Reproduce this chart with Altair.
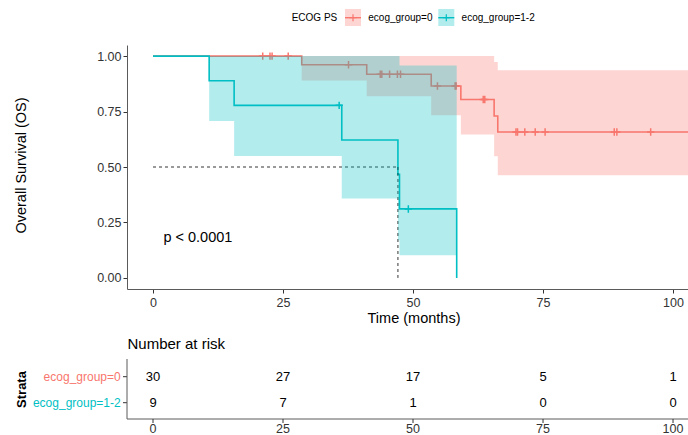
import altair as alt
import numpy as np
import pandas as pd

FONT = "Liberation Sans"

groups = ["ecog_group=0", "ecog_group=1-2"]
colors = ["#F8766D", "#00BFC4"]

# Kaplan-Meier step estimates with 95% confidence band (time in months)
time_g0 = [0.0, 28.6, 41.1, 53.5, 59.2, 65.6, 66.3, 105.0]
surv_g0 = [1.0, 0.961, 0.918, 0.865, 0.804, 0.730, 0.658, 0.658]
upper_g0 = [1.0, 1.0, 1.0, 1.0, 1.0, 0.973, 0.936, 0.936]
lower_g0 = [1.0, 0.890, 0.819, 0.733, 0.646, 0.548, 0.463, 0.463]

time_g1 = [0.0, 10.8, 15.6, 36.3, 47.1, 47.4, 58.4]
surv_g1 = [1.0, 0.889, 0.778, 0.622, 0.467, 0.311, 0.0]
upper_g1 = [1.0, 1.0, 1.0, 1.0, 1.0, 0.958, 0.0]
lower_g1 = [1.0, 0.707, 0.550, 0.358, 0.170, 0.102, 0.0]

# Censoring times
censor_g0 = [21.1, 22.5, 22.9, 26.0, 37.6, 43.7, 44.0, 45.5, 47.0, 47.6,
             54.7, 58.1, 58.3, 63.5, 63.8, 69.8, 70.1, 71.5, 73.5, 75.4,
             88.7, 89.2, 95.7]
censor_g1 = [35.8, 49.1]

# Number at risk
risk_times = [0, 25, 50, 75, 100]
risk_g0 = [30, 27, 17, 5, 1]
risk_g1 = [9, 7, 1, 0, 0]

p_label = "p < 0.0001"
p_pos = (2.0, 0.18)

# ---- tables -------------------------------------------------------------
curves = {
    groups[0]: (time_g0, surv_g0, lower_g0, upper_g0, censor_g0, risk_g0),
    groups[1]: (time_g1, surv_g1, lower_g1, upper_g1, censor_g1, risk_g1),
}

curve_rows, censor_rows, risk_rows, median_rows = [], [], [], []
for g, (t, s, lo, up, cens, risk) in curves.items():
    t_arr, s_arr = np.array(t), np.array(s)
    for ti, si, li, ui in zip(t, s, lo, up):
        curve_rows.append({"group": g, "time": ti, "surv": si, "lower": li, "upper": ui})
    for c in cens:
        idx = np.searchsorted(t_arr, c, side="right") - 1
        censor_rows.append({"group": g, "time": c, "surv": float(s_arr[idx])})
    for rt, n in zip(risk_times, risk):
        risk_rows.append({"group": g, "time": rt, "n": n})
    below = np.where(s_arr <= 0.5)[0]
    if len(below):
        tm = float(t_arr[below[0]])
        median_rows.append({"x": 0.0, "x2": tm, "y": 0.5, "y2": 0.5})
        median_rows.append({"x": tm, "x2": tm, "y": 0.5, "y2": 0.0})

curve_df = pd.DataFrame(curve_rows)
censor_df = pd.DataFrame(censor_rows)
risk_df = pd.DataFrame(risk_rows)
median_df = pd.DataFrame(median_rows)
tick_df = pd.DataFrame({"time": risk_times, "label": [str(v) for v in risk_times]})
one = pd.DataFrame({"k": [0]})

# ---- scales & axes ------------------------------------------------------
W, H = 561, 244
xs = alt.Scale(domain=[-5.0, 102.88], nice=False, zero=False)
ys = alt.Scale(domain=[-0.05, 1.05], nice=False, zero=False)
cs = alt.Scale(domain=groups, range=colors)
AXIS_LINE = "#5a5a5a"

x_axis = alt.Axis(values=risk_times, format="d", title="Time (months)", grid=False,
                  tickSize=4, labelPadding=3, labelFontSize=12.5, labelColor="#333333",
                  tickColor="#333333", domainColor=AXIS_LINE, titleFontSize=14.5,
                  titleFontWeight="normal", titleColor="black", titleX=286.5, titleY=29,
                  titleBaseline="middle")
y_axis = alt.Axis(values=[0, 0.25, 0.5, 0.75, 1.0], format=".2f",
                  title="Overall Survival (OS)", grid=False, tickSize=4, labelPadding=2,
                  labelFontSize=12.5, labelColor="#333333", tickColor="#333333",
                  domainColor=AXIS_LINE, titleFontSize=14.5, titleFontWeight="normal",
                  titleColor="black", titleX=-105.3, titleY=120, titleAngle=270,
                  titleAlign="center", titleBaseline="middle")


def X(field="time"):
    return alt.X(f"{field}:Q", scale=xs, axis=x_axis)


def Y(field):
    return alt.Y(f"{field}:Q", scale=ys, axis=y_axis)


COLOR = alt.Color("group:N", scale=cs, legend=None)
CROSS = "M-1,0L1,0M0,-1L0,1"

# ---- survival panel -----------------------------------------------------
lines = alt.Chart(curve_df).mark_line(interpolate="step-after", strokeWidth=1.6, clip=True).encode(
    x=X(), y=Y("surv"), color=COLOR)

censors = alt.Chart(censor_df).mark_point(shape=CROSS, filled=False, size=55, strokeWidth=1.5,
                                          opacity=1, clip=True).encode(
    x=X(), y=Y("surv"), color=COLOR)

medians = alt.Chart(median_df).mark_rule(strokeDash=[3, 3], color="black", strokeWidth=0.8).encode(
    x=X("x"), x2="x2:Q", y=Y("y"), y2="y2:Q")

bands = alt.Chart(curve_df).mark_area(interpolate="step-after", opacity=0.3, clip=True).encode(
    x=X(), y=Y("lower"), y2="upper:Q", color=COLOR)

ptext = alt.Chart(one).mark_text(align="left", baseline="middle", fontSize=14.5, font=FONT,
                                 color="black").encode(
    x=alt.X("px:Q", scale=xs, axis=x_axis), y=alt.Y("py:Q", scale=ys, axis=y_axis),
    text=alt.value(p_label)).transform_calculate(px=str(p_pos[0]), py=str(p_pos[1]))

main = alt.layer(lines, censors, medians, bands, ptext)

# ---- risk table ---------------------------------------------------------
RISK_TOP, RISK_BOTTOM = 314, 374
rs = alt.Scale(type="point", domain=groups, range=[331.7, 357.7], padding=0)
RY = alt.Y("group:N", scale=rs, axis=None)

counts = alt.Chart(risk_df).mark_text(fontSize=13, font=FONT, color="black", baseline="middle").encode(
    x=X(), y=RY, text="n:Q")

strata_labels = alt.Chart(pd.DataFrame({"group": groups})).mark_text(
    align="right", baseline="middle", fontSize=12, font=FONT).encode(
    x=alt.value(-6.3), y=RY, text="group:N", color=COLOR)

strata_ticks = alt.Chart(pd.DataFrame({"group": groups})).mark_rule(color="#333333").encode(
    x=alt.value(-4), x2=alt.value(0), y=RY)

risk = alt.layer(counts, strata_labels, strata_ticks)

risk_yline = alt.Chart(one).mark_rule(color=AXIS_LINE, strokeWidth=1).encode(
    x=alt.value(0), y=alt.value(RISK_TOP), y2=alt.value(RISK_BOTTOM))
risk_xline = alt.Chart(one).mark_rule(color=AXIS_LINE, strokeWidth=1).encode(
    x=alt.value(0), x2=alt.value(W), y=alt.value(RISK_BOTTOM))
risk_xticks = alt.Chart(tick_df).mark_rule(color="#333333").encode(
    x=X(), y=alt.value(RISK_BOTTOM), y2=alt.value(RISK_BOTTOM + 4))
risk_xlabels = alt.Chart(tick_df).mark_text(fontSize=12.5, font=FONT, color="#333333",
                                            baseline="middle").encode(
    x=X(), y=alt.value(RISK_BOTTOM + 9.5), text="label:N")

risk_title = alt.Chart(one).mark_text(align="left", baseline="middle", fontSize=15, font=FONT,
                                      color="black").encode(
    x=alt.value(0.5), y=alt.value(299), text=alt.value("Number at risk"))
strata_title = alt.Chart(one).mark_text(angle=270, align="center", baseline="middle", fontSize=13,
                                        fontWeight="bold", font=FONT, color="black").encode(
    x=alt.value(-105.3), y=alt.value(344.5), text=alt.value("Strata"))

# ---- legend -------------------------------------------------------------
LEG_Y, KEY_W, KEY_TOP, KEY_BOT = -27.3, 16, -36, -19
key_left = [218.0, 311.3]
legend_layers = [
    alt.Chart(one).mark_text(align="left", baseline="middle", fontSize=10, font=FONT,
                             color="black").encode(
        x=alt.value(164.7), y=alt.value(LEG_Y), text=alt.value("ECOG PS"))
]
for g, c, kx in zip(groups, colors, key_left):
    gd = pd.DataFrame({"group": [g]})
    legend_layers += [
        alt.Chart(gd).mark_rect(color=c, opacity=0.3).encode(
            x=alt.value(kx), x2=alt.value(kx + KEY_W), y=alt.value(KEY_TOP), y2=alt.value(KEY_BOT)),
        alt.Chart(gd).mark_rule(color=c, strokeWidth=1.4).encode(
            x=alt.value(kx), x2=alt.value(kx + KEY_W), y=alt.value(LEG_Y)),
        alt.Chart(gd).mark_point(shape=CROSS, filled=False, size=50, strokeWidth=1.2, color=c,
                                 opacity=1).encode(
            x=alt.value(kx + KEY_W / 2), y=alt.value(LEG_Y)),
        alt.Chart(gd).mark_text(align="left", baseline="middle", fontSize=10, font=FONT,
                                color="black").encode(
            x=alt.value(kx + 23.3), y=alt.value(LEG_Y), text="group:N"),
    ]

chart = alt.layer(
    main, risk, risk_yline, risk_xline, risk_xticks, risk_xlabels, risk_title, strata_title,
    *legend_layers
).resolve_scale(y="independent").properties(
    width=W, height=H,
    padding={"left": 127, "top": 45, "right": 0, "bottom": 146},
    autosize=alt.AutoSizeParams(type="none"),
    background="white",
).configure_view(stroke=None).configure_axis(
    labelFont=FONT, titleFont=FONT, domainWidth=1
)

chart.save("out.html", embed_options={"renderer": "svg", "actions": False})
